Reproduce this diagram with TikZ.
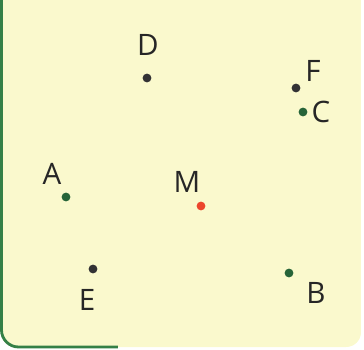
\documentclass[tikz,border=0pt]{standalone}
\usepackage{fontspec}
\setmainfont{Open Sans}
\usepackage{tikz}
\usetikzlibrary{positioning}
\definecolor{paper}{RGB}{250,249,205}
\definecolor{frame}{RGB}{52,128,70}
\definecolor{ptdark}{RGB}{50,50,52}
\definecolor{ptgreen}{RGB}{38,100,56}
\definecolor{ptred}{RGB}{236,70,44}
\tikzset{
  pt/.style   ={circle, inner sep=0pt, minimum size=0.22cm},
  ptd/.style  ={pt, fill=ptdark},
  ptg/.style  ={pt, fill=ptgreen},
  ptr/.style  ={pt, fill=ptred},
  lbl/.style  ={font=\fontsize{21}{22}\selectfont, text=black!85, inner sep=0pt},
}

\begin{document}
\begin{tikzpicture}[x=0.025cm, y=-0.025cm]
  \useasboundingbox (0,0) rectangle (364,350);
  % paper
  \fill[paper, rounded corners=0.37cm] (1,-10) -- (1,347) -- (361,347) -- (361,-10) -- cycle;
  \fill[paper] (1,0) rectangle (361,20);
  \draw[frame, line width=2pt] (1.5,0) -- (1.5,330) arc[start angle=180, end angle=270, radius=0.425cm] -- (118,347);
  % points
  \node[ptd] (pD) at (147,78)  {};
  \node[ptd] (pF) at (296,88)  {};
  \node[ptg] (pC) at (303,112) {};
  \node[ptg] (pA) at (66,197)  {};
  \node[ptr] (pM) at (201,206) {};
  \node[ptd] (pE) at (93,269)  {};
  \node[ptg] (pB) at (289,273) {};
  % labels
  \node[lbl] (lD) at (148,45)  {D};
  \node[lbl] (lF) at (313,71)  {F};
  \node[lbl] (lC) at (321,112) {C};
  \node[lbl] (lA) at (52,174)  {A};
  \node[lbl] (lM) at (187,182) {M};
  \node[lbl] (lE) at (87,300)  {E};
  \node[lbl] (lB) at (316,293) {B};
\end{tikzpicture}
\end{document}
